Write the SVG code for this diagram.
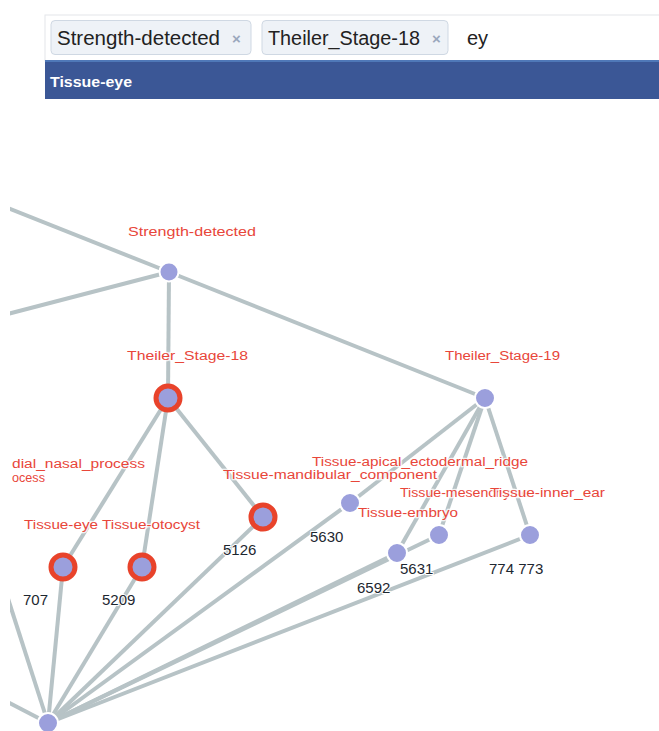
<svg xmlns="http://www.w3.org/2000/svg" width="659" height="731" viewBox="0 0 659 731">
<style>
.tag{fill:#eef2f7;stroke:#cfd8e3;stroke-width:1}
.tagt{font-family:"Liberation Sans",Arial,sans-serif;font-size:20px;fill:#222}
.x{font-family:"Liberation Sans",Arial,sans-serif;font-size:15px;fill:#9aa8bd;font-weight:bold}
.lbl{font-family:"Liberation Sans",Arial,sans-serif;font-size:12px;fill:#e8463a;stroke:#fff;stroke-width:2.5;paint-order:stroke;stroke-opacity:0.8}
.num{font-family:"Liberation Sans",Arial,sans-serif;font-size:15px;fill:#1d2730;stroke:#fff;stroke-width:2;paint-order:stroke}
.edge{stroke:#b7c3c6;stroke-width:4;fill:none;stroke-linecap:butt}
.node{fill:#9b9fdc;stroke:#fff;stroke-width:2}
.sel{fill:#9b9fdc;stroke:#e8432b;stroke-width:5}
</style>
<defs>
<clipPath id="gc"><rect x="10" y="110" width="649" height="621"/></clipPath>
</defs>
<rect width="659" height="731" fill="#fff"/>
<g id="search">
<rect x="45" y="15" width="620" height="46" fill="#fff" stroke="#e4e6ea"/>
<g id="tag1"><rect class="tag" x="51" y="20.5" width="200" height="34" rx="4"/>
<text class="tagt" x="57" y="45" textLength="163" lengthAdjust="spacingAndGlyphs">Strength-detected</text>
<text class="x" x="232" y="44">×</text></g>
<g id="tag2"><rect class="tag" x="262" y="20.5" width="186" height="34" rx="4"/>
<text class="tagt" x="268" y="45" textLength="152" lengthAdjust="spacingAndGlyphs">Theiler_Stage-18</text>
<text class="x" x="432" y="44">×</text></g>
<text class="tagt" x="467" y="45" fill="#333">ey</text>
<rect x="45" y="60" width="620" height="39" fill="#3b5796"/>
<line x1="45" y1="61" x2="659" y2="61" stroke="#4f78b8" stroke-width="2"/>
<text x="50" y="87" font-family="'Liberation Sans',Arial,sans-serif" font-size="15" font-weight="bold" fill="#fff" textLength="82" lengthAdjust="spacingAndGlyphs">Tissue-eye</text>
</g>
<g clip-path="url(#gc)">
<g id="connectors">
<line class="edge" x1="169" y1="272" x2="0" y2="205"/>
<line class="edge" x1="169" y1="272" x2="0" y2="316"/>
<line class="edge" x1="169" y1="272" x2="168" y2="398"/>
<line class="edge" x1="169" y1="272" x2="485" y2="398"/>
<line class="edge" x1="168" y1="398" x2="63" y2="567"/>
<line class="edge" x1="168" y1="398" x2="142" y2="567"/>
<line class="edge" x1="168" y1="398" x2="263" y2="517"/>
<line class="edge" x1="485" y1="398" x2="350" y2="503"/>
<line class="edge" x1="485" y1="398" x2="397" y2="553"/>
<line class="edge" x1="485" y1="398" x2="439" y2="535"/>
<line class="edge" x1="485" y1="398" x2="530" y2="535"/>
<line class="edge" x1="48" y1="723" x2="2" y2="580"/>
<line class="edge" x1="48" y1="723" x2="0" y2="698"/>
<line class="edge" x1="48" y1="723" x2="63" y2="567"/>
<line class="edge" x1="48" y1="723" x2="142" y2="567"/>
<line class="edge" x1="48" y1="723" x2="263" y2="517"/>
<line class="edge" x1="48" y1="723" x2="350" y2="503"/>
<line class="edge" x1="48" y1="723" x2="397" y2="553" stroke="#a9b4b7"/>
<line class="edge" x1="48" y1="723" x2="439" y2="535"/>
<line class="edge" x1="48" y1="723" x2="530" y2="535"/>
</g>
<text class="lbl" x="12" y="468" textLength="133" lengthAdjust="spacingAndGlyphs">dial_nasal_process</text>
<text class="lbl" x="12" y="482" textLength="33" lengthAdjust="spacingAndGlyphs">ocess</text>
<g id="n-strength"><circle class="node" cx="169" cy="272" r="9.5"/>
<text class="lbl" x="128" y="236" textLength="128" lengthAdjust="spacingAndGlyphs">Strength-detected</text></g>
<g id="n-ts18"><circle class="sel" cx="168" cy="398" r="12"/>
<text class="lbl" x="127" y="360" textLength="121" lengthAdjust="spacingAndGlyphs">Theiler_Stage-18</text></g>
<g id="n-ts19"><circle class="node" cx="485" cy="398" r="10"/>
<text class="lbl" x="445" y="360" textLength="115" lengthAdjust="spacingAndGlyphs">Theiler_Stage-19</text></g>
<g id="n-707"><circle class="sel" cx="63" cy="567" r="12"/>
<text class="lbl" x="24" y="529" textLength="74" lengthAdjust="spacingAndGlyphs">Tissue-eye</text>
<text class="num" x="23" y="605">707</text></g>
<g id="n-5209"><circle class="sel" cx="142" cy="567" r="12"/>
<text class="lbl" x="102" y="529" textLength="98" lengthAdjust="spacingAndGlyphs">Tissue-otocyst</text>
<text class="num" x="102" y="605">5209</text></g>
<g id="n-5126"><circle class="sel" cx="263" cy="517" r="12"/>
<text class="lbl" x="223" y="479" textLength="214" lengthAdjust="spacingAndGlyphs">Tissue-mandibular_component</text>
<text class="num" x="223" y="555">5126</text></g>
<g id="n-5630"><circle class="node" cx="350" cy="503" r="10"/>
<text class="lbl" x="312" y="466" textLength="216" lengthAdjust="spacingAndGlyphs">Tissue-apical_ectodermal_ridge</text>
<text class="num" x="310" y="542">5630</text></g>
<g id="n-6592"><circle class="node" cx="397" cy="553" r="10"/>
<text class="lbl" x="358" y="517" textLength="100" lengthAdjust="spacingAndGlyphs">Tissue-embryo</text>
<text class="num" x="357" y="593">6592</text></g>
<g id="n-5631"><circle class="node" cx="439" cy="535" r="10"/>
<text class="lbl" x="400" y="497" textLength="130" lengthAdjust="spacingAndGlyphs">Tissue-mesenchyme</text>
<text class="num" x="400" y="574">5631</text></g>
<g id="n-774"><circle class="node" cx="530" cy="535" r="10"/>
<text class="lbl" x="490" y="497" textLength="115" lengthAdjust="spacingAndGlyphs">Tissue-inner_ear</text>
<text class="num" x="489" y="574">774 773</text></g>
<g id="n-bottom"><circle class="node" cx="48" cy="723" r="10"/></g>
</g>
</svg>
